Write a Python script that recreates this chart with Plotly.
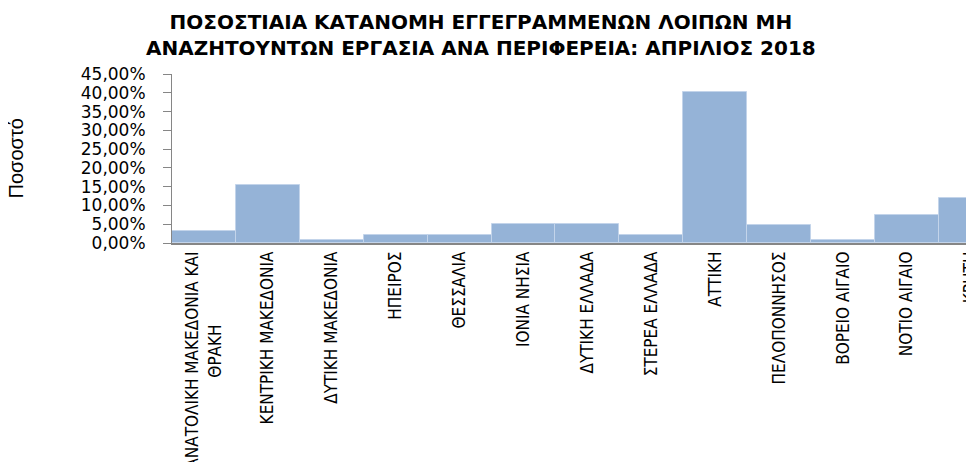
import plotly.graph_objects as go

categories = [
    "ΑΝΑΤΟΛΙΚΗ ΜΑΚΕΔΟΝΙΑ ΚΑΙ<br>ΘΡΑΚΗ" + "\u00a0" * 15,
    "ΚΕΝΤΡΙΚΗ ΜΑΚΕΔΟΝΙΑ",
    "ΔΥΤΙΚΗ ΜΑΚΕΔΟΝΙΑ",
    "ΗΠΕΙΡΟΣ",
    "ΘΕΣΣΑΛΙΑ",
    "ΙΟΝΙΑ ΝΗΣΙΑ",
    "ΔΥΤΙΚΗ ΕΛΛΑΔΑ",
    "ΣΤΕΡΕΑ ΕΛΛΑΔΑ",
    "ΑΤΤΙΚΗ",
    "ΠΕΛΟΠΟΝΝΗΣΟΣ",
    "ΒΟΡΕΙΟ ΑΙΓΑΙΟ",
    "ΝΟΤΙΟ ΑΙΓΑΙΟ",
    "ΚΡΗΤΗ",
]
shares = [0.031, 0.155, 0.009, 0.022, 0.022, 0.0495, 0.0495, 0.022, 0.402, 0.048, 0.009, 0.0745, 0.12]

title_text = ("ΠΟΣΟΣΤΙΑΙΑ ΚΑΤΑΝΟΜΗ ΕΓΓΕΓΡΑΜΜΕΝΩΝ ΛΟΙΠΩΝ ΜΗ<br>"
              "ΑΝΑΖΗΤΟΥΝΤΩΝ ΕΡΓΑΣΙΑ ΑΝΑ ΠΕΡΙΦΕΡΕΙΑ: ΑΠΡΙΛΙΟΣ 2018")
y_title = "Ποσοστό"

# page has an 8px body margin; figure is sized/offset to compensate
W, H = 966, 454
L, T, B = 164, 66, 219
PW, PH = W - L, H - T - B

fig = go.Figure(go.Bar(
    x=categories,
    y=shares,
    marker=dict(color="#95B3D7", line=dict(color="#C3D4EA", width=1)),
))

fig.update_layout(
    width=W, height=H,
    paper_bgcolor="white", plot_bgcolor="white",
    margin=dict(l=L, r=0, t=T, b=B, autoexpand=False),
    bargap=0,
    separators=",.",
    showlegend=False,
    annotations=[
        dict(text=title_text, xref="paper", yref="paper",
             x=(473 - L) / PW, y=(T + PH - 26.5) / PH,
             xanchor="center", yanchor="middle", showarrow=False,
             font=dict(family="DejaVu Sans", size=20, color="black", weight="bold")),
        dict(text=y_title, xref="paper", yref="paper",
             x=(7 - L) / PW, y=0.5, textangle=-90,
             xanchor="center", yanchor="middle", showarrow=False,
             font=dict(family="Liberation Sans, Arial", size=20, color="black")),
    ],
)

fig.update_xaxes(
    type="category",
    range=[-0.5, 12.05],
    tickangle=-90,
    tickfont=dict(family="Liberation Sans Narrow, Arial Narrow, DejaVu Sans Condensed", size=17, color="black"),
    showline=True, linecolor="#868686", linewidth=1.5,
    ticks="", showgrid=False, automargin=False,
)

fig.update_yaxes(
    range=[0, 0.45],
    dtick=0.05,
    tickformat=".2%",
    tickfont=dict(family="DejaVu Sans", size=17, color="black"),
    showline=True, linecolor="#868686", linewidth=1,
    ticks="outside", ticklen=8, tickcolor="#868686",
    ticklabelstandoff=14,
    showgrid=False, zeroline=False, automargin=False,
)

fig.write_html("out.html")
